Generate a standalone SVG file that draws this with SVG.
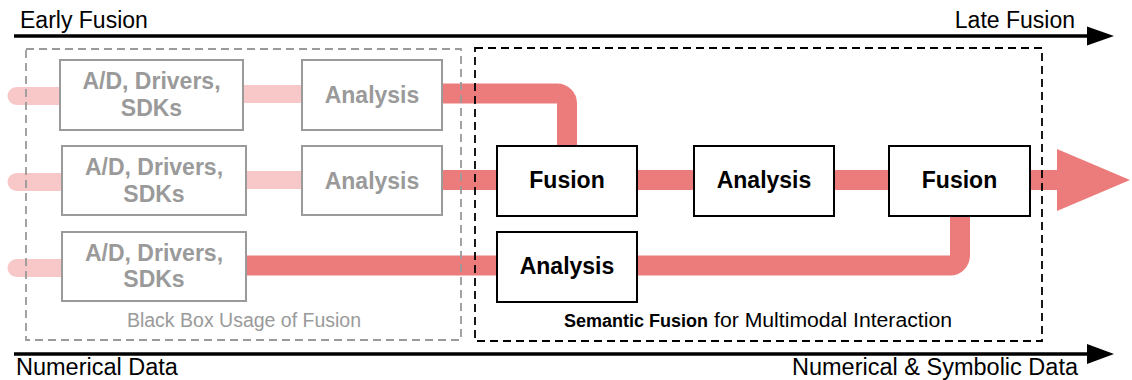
<svg xmlns="http://www.w3.org/2000/svg" width="1132" height="380" viewBox="0 0 1132 380">
<style>
text{font-family:"Liberation Sans",Arial,Helvetica,sans-serif}
.axis{stroke:#000;stroke-width:3.5;fill:none}
.head{fill:#000}
.lbl{font-size:23px;fill:#000}
.light{stroke:#f8c8c8;stroke-width:18;fill:none}
.dark{stroke:#eb7c7b;stroke-width:20;fill:none}
.gbox{fill:#fff;stroke:#9a9a9a;stroke-width:2}
.bbox{fill:#fff;stroke:#000;stroke-width:2}
.gtxt{font-size:23px;font-weight:bold;fill:#9a9a9a;text-anchor:middle}
.btxt{font-size:23px;font-weight:bold;fill:#000;text-anchor:middle}
.gframe{fill:none;stroke:#9a9a9a;stroke-width:1.8;stroke-dasharray:8 5}
.bframe{fill:none;stroke:#000;stroke-width:1.8;stroke-dasharray:8 5}
</style>
<g id="axes">
<path class="axis" d="M14,36 H1090"/>
<polygon class="head" points="1087,26.5 1114,36 1087,45.5"/>
<path class="axis" d="M14,354 H1090"/>
<polygon class="head" points="1087,344 1114,354 1087,364"/>
<text class="lbl" x="20" y="28">Early Fusion</text>
<text class="lbl" x="1075" y="28" text-anchor="end">Late Fusion</text>
<text class="lbl" x="16" y="375" style="font-size:23.5px">Numerical Data</text>
<text class="lbl" x="1078" y="375" text-anchor="end" style="font-size:23.5px">Numerical &amp; Symbolic Data</text>
</g>
<g id="connectors">
<path class="light" stroke-linecap="round" d="M16.5,96 H62"/>
<path class="light" d="M243,94 H302"/>
<path class="light" stroke-linecap="round" d="M16.5,182 H64"/>
<path class="light" d="M246,180 H302"/>
<path class="light" stroke-linecap="round" d="M16.5,268 H64"/>
<path class="dark" d="M442,93.5 H557 A10,10 0 0 1 567,103.5 V147"/>
<path class="dark" d="M442,180 H497"/>
<path class="dark" d="M246,265.5 H497"/>
<path class="dark" d="M637,265.5 H950 A10,10 0 0 0 960,255.5 V215"/>
<path class="dark" d="M637,180 H694"/>
<path class="dark" d="M834,180 H889"/>
<path class="dark" d="M1030,180 H1060"/>
<polygon fill="#eb7c7b" points="1057,149 1130,180 1057,211"/>
</g>
<g id="blackbox-frame">
<rect class="gframe" x="26" y="49" width="435" height="291"/>
<text x="244" y="327" text-anchor="middle" style="font-size:19.5px;fill:#9a9a9a">Black Box Usage of Fusion</text>
</g>
<g id="semantic-frame">
<rect class="bframe" x="475" y="48" width="567" height="293"/>
<text x="564" y="327" style="font-size:18px;font-weight:bold;fill:#000">Semantic Fusion</text>
<text x="714" y="327" style="font-size:19.5px;fill:#000" textLength="238" lengthAdjust="spacingAndGlyphs">for Multimodal Interaction</text>
</g>
<g id="ad1">
<rect class="gbox" x="60" y="60" width="183" height="70"/>
<text class="gtxt" x="151.5" y="89">A/D, Drivers,</text>
<text class="gtxt" x="151.5" y="115.5">SDKs</text>
</g>
<g id="analysis1">
<rect class="gbox" x="302" y="60" width="140" height="70"/>
<text class="gtxt" x="372" y="103">Analysis</text>
</g>
<g id="ad2">
<rect class="gbox" x="62" y="146" width="184" height="69"/>
<text class="gtxt" x="154" y="175">A/D, Drivers,</text>
<text class="gtxt" x="154" y="201.5">SDKs</text>
</g>
<g id="analysis2">
<rect class="gbox" x="302" y="146" width="140" height="69"/>
<text class="gtxt" x="372" y="188.5">Analysis</text>
</g>
<g id="ad3">
<rect class="gbox" x="62" y="232" width="184" height="69"/>
<text class="gtxt" x="154" y="260.5">A/D, Drivers,</text>
<text class="gtxt" x="154" y="287">SDKs</text>
</g>
<g id="fusion1">
<rect class="bbox" x="497" y="146" width="140" height="70"/>
<text class="btxt" x="567" y="188">Fusion</text>
</g>
<g id="analysis-mid">
<rect class="bbox" x="694" y="146" width="140" height="70"/>
<text class="btxt" x="764" y="188">Analysis</text>
</g>
<g id="fusion2">
<rect class="bbox" x="889" y="146" width="141" height="70"/>
<text class="btxt" x="959.5" y="188">Fusion</text>
</g>
<g id="analysis3">
<rect class="bbox" x="497" y="232" width="140" height="70"/>
<text class="btxt" x="567" y="274">Analysis</text>
</g>
</svg>
